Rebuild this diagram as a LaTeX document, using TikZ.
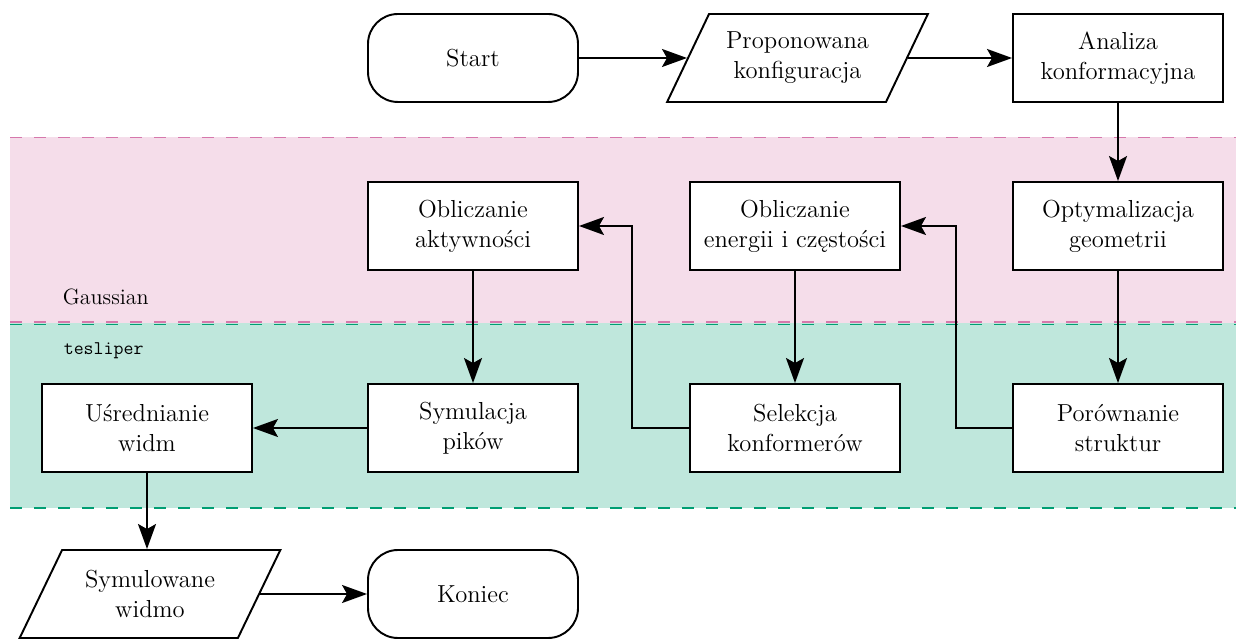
\documentclass[tikz,border=0pt]{standalone}
\usepackage{fontspec}
\usetikzlibrary{shapes.geometric,arrows.meta}
\definecolor{gausscol}{RGB}{214,120,172}
\definecolor{teslcol}{RGB}{0,158,115}

\begin{document}
\begin{tikzpicture}[line width=1.1pt, every node/.style={font=\fontsize{14}{17}\selectfont, align=center}]
  \tikzstyle{blok}=[draw, rectangle, fill=white, minimum width=4.2cm, minimum height=1.76cm]
  \tikzstyle{term}=[blok, rounded corners=0.6cm]
  \tikzstyle{dane}=[draw, trapezium, trapezium left angle=60, trapezium right angle=120,
    trapezium stretches, fill=white, minimum width=5.22cm, minimum height=1.76cm]
  \tikzstyle{strz}=[-{Stealth[length=5mm, width=3.6mm, inset=1mm]}]
  \useasboundingbox (0,0) rectangle (24.72,12.76);
  % pasy: Gaussian (gora) i tesliper (dol)
  \fill[gausscol!25] (0.2,10.01) rectangle (24.72,6.3);
  \fill[teslcol!25] (0.2,6.3) rectangle (24.72,2.6);
  \draw[gausscol, dash pattern=on 0.24cm off 0.24cm] (0.2,10.01) -- (24.72,10.01);
  \draw[gausscol, dash pattern=on 0.24cm off 0.24cm] (0.2,6.32) -- (24.72,6.32);
  \draw[teslcol, dash pattern=on 0.24cm off 0.24cm] (0.2,6.27) -- (24.72,6.27);
  \draw[teslcol, dash pattern=on 0.24cm off 0.24cm] (0.2,2.6) -- (24.72,2.6);
  \node[anchor=base west, font=\fontsize{12.6}{15}\selectfont] (gauss) at (1.12,6.66) {Gaussian};
  \node[anchor=base west, font=\fontsize{11}{13}\ttfamily] (tesl) at (1.14,5.66) {tesliper};
  % wiersz 1
  \node[term] (start) at (9.46, 11.6) {Start};
  \node[dane] (konf) at (15.95, 11.6) {Proponowana\\konfiguracja};
  \node[blok] (anal) at (22.36, 11.6) {Analiza\\konformacyjna};
  % wiersz 2
  \node[blok] (opt) at (22.36, 8.24) {Optymalizacja\\geometrii};
  \node[blok] (energ) at (15.9, 8.24) {Obliczanie\\energii i częstości};
  \node[blok] (akt) at (9.46, 8.24) {Obliczanie\\aktywności};
  % wiersz 3
  \node[blok] (por) at (22.36, 4.2) {Porównanie\\struktur};
  \node[blok] (sel) at (15.9, 4.2) {Selekcja\\konformerów};
  \node[blok] (sym) at (9.46, 4.2) {Symulacja\\pików};
  \node[blok] (sred) at (2.94, 4.2) {Uśrednianie\\widm};
  % wiersz 4
  \node[dane] (widmo) at (3.0, 0.88) {Symulowane\\widmo};
  \node[term] (kon) at (9.46, 0.88) {Koniec};
  % strzalki
  \draw[strz] (start) -- (konf);
  \draw[strz] (konf) -- (anal);
  \draw[strz] (anal) -- (opt);
  \draw[strz] (opt) -- (por);
  \draw[strz] (por.west) -- ++(-1.12,0) |- (energ.east);
  \draw[strz] (energ) -- (sel);
  \draw[strz] (sel.west) -- ++(-1.14,0) |- (akt.east);
  \draw[strz] (akt) -- (sym);
  \draw[strz] (sym) -- (sred);
  \draw[strz] (sred) -- (sred |- widmo.north);
  \draw[strz] (widmo) -- (kon);
\end{tikzpicture}
\end{document}
